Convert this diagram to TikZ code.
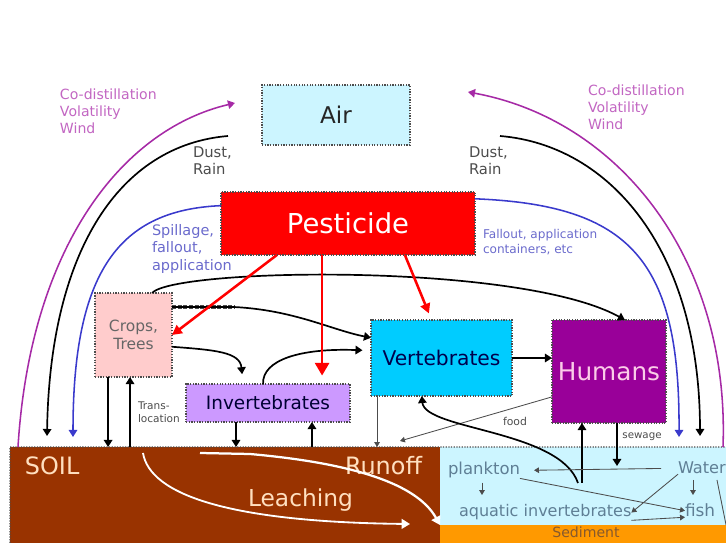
\documentclass[tikz,border=0pt]{standalone}
\usepackage{fontspec}
\setmainfont{DejaVu Sans}
\usetikzlibrary{arrows.meta, calc}
\definecolor{airblue}{HTML}{CCF5FF}
\definecolor{pestred}{HTML}{FF0000}
\definecolor{croppink}{HTML}{FFCCCC}
\definecolor{invlilac}{HTML}{CC99FF}
\definecolor{vertcyan}{HTML}{00CCFF}
\definecolor{humpurple}{HTML}{990099}
\definecolor{soilbrown}{HTML}{993300}
\definecolor{watercyan}{HTML}{CCF5FF}
\definecolor{sedorange}{HTML}{FF9900}
\definecolor{volpurple}{HTML}{A62AA6}
\definecolor{voltext}{HTML}{C266C2}
\definecolor{spillblue}{HTML}{3A3ACC}
\definecolor{spilltext}{HTML}{6A6ACC}
\definecolor{aquatext}{HTML}{5F7F95}
\newcommand{\fsz}[2]{\fontsize{#1}{#2}\selectfont}

\begin{document}
\begin{tikzpicture}[
    x=0.025cm, y=-0.025cm,
    box/.style={draw=gray!60!black, densely dotted, line width=0.9pt,
                inner sep=0pt, outer sep=0pt, align=center},
    band/.style={inner sep=0pt, outer sep=0pt},
    note/.style={inner sep=0pt, outer sep=0pt, align=left, anchor=north west},
    word/.style={inner sep=0pt, outer sep=0pt, anchor=base west},
    tip/.style={-{Triangle[width=6pt,length=5pt]}},
    flow/.style={tip, line width=1.2pt, black},
    fine/.style={-{Triangle[width=4pt,length=3.5pt]}, line width=0.6pt, gray!60!black},
    volat/.style={tip, line width=1.1pt, volpurple},
    spill/.style={tip, line width=1.1pt, spillblue},
    apply/.style={-{Triangle[width=7pt,length=7pt]}, line width=1.8pt, pestred},
    wash/.style={-{Triangle[width=7pt,length=6pt]}, line width=1.6pt, white}
  ]
    \useasboundingbox (0,0) rectangle (726,543);

    \node[box, fill=airblue, minimum width=3.7cm, minimum height=1.5cm,
          font=\fsz{16.4}{18}, text=black!85] (air) at (336,115) {Air};
    \node[box, fill=pestred, minimum width=6.35cm, minimum height=1.575cm,
          font=\fsz{19.5}{22}, text=white] (pest) at (348,223.5) {Pesticide};
    \node[box, fill=croppink, minimum width=1.925cm, minimum height=2.1cm,
          font=\fsz{11}{12.8}, text=black!60] (crops) at (133.5,335) {Crops,\\Trees};
    \node[box, fill=invlilac, minimum width=4.1cm, minimum height=0.95cm,
          font=\fsz{13.1}{15}, text=blue!20!black] (invert) at (268,403) {Invertebrates};
    \node[box, fill=vertcyan, minimum width=3.525cm, minimum height=1.9cm,
          font=\fsz{14.4}{16}, text=blue!30!black] (vert) at (441.5,358) {Vertebrates};
    \node[box, fill=humpurple, minimum width=2.85cm, minimum height=2.575cm,
          font=\fsz{17.6}{20}, text=magenta!20] (humans) at (609,371.5) {Humans};

    \node[band, fill=soilbrown, minimum width=10.75cm, minimum height=2.4cm] (soil) at (225,495) {};
    \node[band, fill=watercyan, minimum width=7.15cm, minimum height=1.95cm] (waterbox) at (583,486) {};
    \node[band, fill=sedorange, minimum width=7.15cm, minimum height=0.45cm] (sediment) at (583,534) {};
    \draw[gray!60!black, densely dotted, line width=0.9pt]
      (soil.south west) -- (soil.north west) -- (waterbox.north east);

    \node[word, font=\fsz{17}{19}, text=orange!25] (soillbl) at (25,475) {SOIL};
    \node[word, font=\fsz{17}{19}, text=orange!25] (runoff) at (345,475) {Runoff};
    \node[word, font=\fsz{16.6}{19}, text=orange!25] (leach) at (248,507) {Leaching};
    \node[word, font=\fsz{11.7}{13}, text=aquatext] (plankton) at (448,475) {plankton};
    \node[word, font=\fsz{11.5}{13}, text=aquatext] (water) at (678,474) {Water};
    \node[word, font=\fsz{11.4}{13}, text=aquatext] (aquatic) at (459,517) {aquatic invertebrates};
    \node[word, font=\fsz{12}{13}, text=aquatext] (fish) at (685,517) {fish};
    \node[word, font=\fsz{10}{11}, text=brown!70!black, anchor=base] (sedlbl) at (586,538) {Sediment};

    \node[note, font=\fsz{10}{12}, text=voltext] (volleft) at (60,89) {Co-distillation\\Volatility\\Wind};
    \node[note, font=\fsz{10}{12}, text=voltext] (volright) at (588,85) {Co-distillation\\Volatility\\Wind};
    \node[note, font=\fsz{10.5}{12}, text=black!70] (dustleft) at (193,147) {Dust,\\Rain};
    \node[note, font=\fsz{10.5}{12}, text=black!70] (dustright) at (469,147) {Dust,\\Rain};
    \node[note, font=\fsz{10.3}{12.8}, text=spilltext] (spilllbl) at (152,224) {Spillage,\\fallout,\\application};
    \node[note, font=\fsz{8.6}{10.7}, text=spilltext] (falllbl) at (483,229) {Fallout, application\\containers, etc};
    \node[note, font=\fsz{7.5}{9.2}, text=black!70] (translbl) at (138,402) {Trans-\\location};
    \node[font=\fsz{7.7}{9}, text=black!70, inner sep=0pt] (foodlbl) at (515,421) {food};
    \node[font=\fsz{7.3}{9}, text=black!70, inner sep=0pt] (sewagelbl) at (642,437) {sewage};

    \coordinate (wl) at (18,447);
    \coordinate (wlt) at (235,103);
    \coordinate (wr) at (723,447);
    \coordinate (wrt) at (468,92);
    \coordinate (dl) at (228,136);
    \coordinate (dlt) at (47,436);
    \coordinate (dr) at (500,136);
    \coordinate (drt) at (700,436);
    \coordinate (bl) at (73,437);
    \coordinate (br) at (679,437);

    \draw[volat] (wl) .. controls (30,250) and (120,130) .. (wlt);
    \draw[volat] (wr) .. controls (730,260) and (620,120) .. (wrt);
    \draw[flow] (dl) .. controls (120,145) and (50,250) .. (dlt);
    \draw[flow] (dr) .. controls (610,145) and (700,250) .. (drt);
    \draw[spill] (pest.172) .. controls (120,210) and (73,270) .. (bl);
    \draw[spill] (pest.11) .. controls (630,205) and (680,260) .. (br);

    \coordinate (p1) at ($(pest.south west)!0.22!(pest.south east)$);
    \coordinate (p2) at ($(pest.south west)!0.398!(pest.south east)$);
    \coordinate (p3) at ($(pest.south west)!0.724!(pest.south east)$);
    \coordinate (v3) at ($(vert.north west)!0.43!(vert.north east)$);

    \coordinate (c1) at ($(crops.north west)!0.74!(crops.north east)$);
    \coordinate (h1) at ($(humans.north west)!0.64!(humans.north east)$);
    \draw[flow] (c1) .. controls (175,268) and (520,262) .. (h1);
    \draw[line width=3pt, black!70, densely dotted] (crops.36) -- ++(62,0);
    \draw[flow] (crops.36) -- ++(62,0) .. controls +(60,3) and +(-40,-8) .. (vert.164);
    \coordinate (i1) at ($(invert.north west)!0.348!(invert.north east)$);
    \coordinate (i2) at ($(invert.north west)!0.47!(invert.north east)$);
    \draw[flow, shorten >=7pt] (crops.-17) .. controls (215,350) and (240,352) .. (i1);
    \draw[flow, shorten >=6pt] (i2) .. controls (262,360) and (300,348) .. (vert.174);

    \draw[apply] (p1) -- (crops.east);
    \draw[apply, -{Triangle[width=10pt,length=9pt]}, shorten >=6pt] (p2) -- (p2 |- invert.north);
    \draw[apply, shorten >=5pt] (p3) -- (v3);

    \coordinate (c2) at ($(crops.south west)!0.17!(crops.south east)$);
    \coordinate (c3) at ($(crops.south west)!0.455!(crops.south east)$);
    \draw[flow] (c2) -- (c2 |- soil.north);
    \draw[flow] (c3 |- soil.north) -- (c3);
    \coordinate (i3) at ($(invert.south west)!0.305!(invert.south east)$);
    \coordinate (i4) at ($(invert.south west)!0.768!(invert.south east)$);
    \draw[flow] (i3) -- (i3 |- soil.north);
    \draw[flow] (i4 |- soil.north) -- (i4);

    \draw[flow] (vert.east) -- (vert.east -| humans.west);
    \coordinate (v1) at ($(vert.south west)!0.043!(vert.south east)$);
    \coordinate (v2) at ($(vert.south west)!0.36!(vert.south east)$);
    \draw[fine] (v1) -- (v1 |- soil.north);
    \coordinate (fd) at (400,441);
    \draw[fine] (humans.204) -- (fd);
    \coordinate (wc) at (578,483);
    \draw[flow] (wc) .. controls (560,430) and (425,430) .. (v2);
    \coordinate (h2) at ($(humans.south west)!0.263!(humans.south east)$);
    \coordinate (h3) at ($(humans.south west)!0.57!(humans.south east)$);
    \coordinate (wu) at (h2 |- wc);
    \coordinate (ws) at (617,466);
    \draw[flow] (wu) -- (h2);
    \draw[flow] (h3) -- (ws);

    \draw[fine, shorten <=12pt, shorten >=10pt] (water.west) -- (plankton.east);
    \draw[fine] ([yshift=-3pt]plankton.south -| 482,0) -- (482,495);
    \draw[fine] (plankton.south east) -- (fish.west);
    \draw[fine] (water.south west) -- (aquatic.east);
    \draw[fine] (693,480) -- (693,495);
    \draw[fine] (aquatic.south east) -- (fish.south west);
    \draw[gray!60!black, line width=0.6pt] (717,480) -- (sediment.north east);

    \coordinate (r0) at (200,453);
    \coordinate (r1) at (250,454);
    \coordinate (l0) at (143,453);
    \coordinate (l1) at (410,524);
    \draw[wash] (r0) -- (r1) .. controls (340,462) and (415,480) .. (waterbox.south west);
    \draw[wash, line width=1.3pt] (l0) .. controls (150,495) and (230,522) .. (l1);
  \end{tikzpicture}
\end{document}
